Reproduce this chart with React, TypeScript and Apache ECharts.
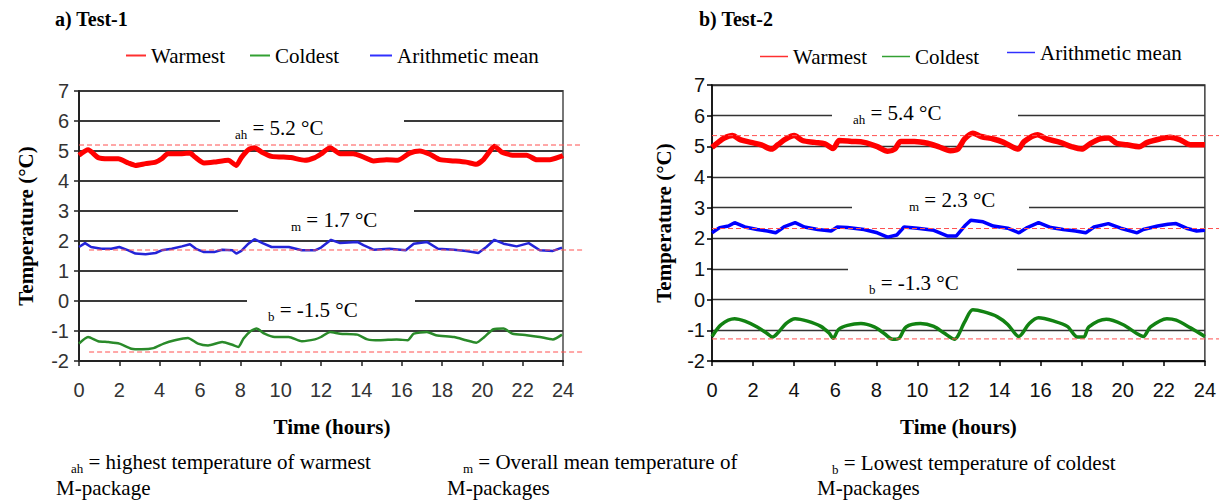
import React, { useEffect, useRef } from 'react';
import * as echarts from 'echarts';

// ---------- data (hours, °C) ----------
const test1Warmest = [
  [0, 4.86], [0.45, 5.04], [0.95, 4.78], [1.45, 4.74], [1.95, 4.74], [2.45, 4.6], [2.8, 4.52], [3.3, 4.58],
  [3.8, 4.63], [4.1, 4.74], [4.4, 4.91], [4.9, 4.91], [5.5, 4.93], [5.75, 4.8], [6.2, 4.6], [6.7, 4.63],
  [7.4, 4.69], [7.8, 4.52], [8.05, 4.78], [8.4, 5.04], [8.7, 5.11], [9.05, 4.97], [9.55, 4.82], [10.05, 4.8],
  [10.5, 4.78], [11.2, 4.69], [11.7, 4.78], [12.0, 4.9], [12.45, 5.11], [12.95, 4.91], [13.6, 4.91], [14.1, 4.8],
  [14.6, 4.67], [15.25, 4.71], [15.8, 4.69], [16.4, 4.93], [16.9, 5.0], [17.4, 4.89], [17.9, 4.71], [18.6, 4.67],
  [19.2, 4.63], [19.7, 4.56], [20.05, 4.71], [20.4, 5.02], [20.6, 5.16], [20.95, 4.97], [21.5, 4.86], [22.2, 4.86],
  [22.7, 4.71], [23.35, 4.71], [23.9, 4.82], [24, 4.85],
];
const test1Mean = [
  [0, 1.8], [0.3, 1.93], [0.6, 1.8], [1.1, 1.74], [1.6, 1.74], [2.0, 1.8], [2.45, 1.69], [2.8, 1.58],
  [3.3, 1.56], [3.8, 1.6], [4.1, 1.69], [4.6, 1.74], [5.1, 1.82], [5.5, 1.89], [5.8, 1.74], [6.2, 1.63],
  [6.7, 1.63], [7.1, 1.71], [7.6, 1.69], [7.8, 1.58], [8.05, 1.67], [8.4, 1.91], [8.7, 2.06], [9.1, 1.93],
  [9.55, 1.8], [10.4, 1.8], [11.05, 1.69], [11.7, 1.69], [12.0, 1.78], [12.5, 2.04], [12.95, 1.93], [13.8, 1.97],
  [14.1, 1.86], [14.6, 1.71], [15.4, 1.74], [16.2, 1.69], [16.6, 1.91], [17.25, 1.97], [17.8, 1.74], [18.6, 1.71],
  [19.2, 1.67], [19.8, 1.6], [20.2, 1.8], [20.6, 2.04], [21.05, 1.91], [21.7, 1.82], [22.3, 1.93], [22.85, 1.69],
  [23.5, 1.67], [23.95, 1.78],
];
const test1Coldest = [
  [0, -1.42], [0.45, -1.2], [0.95, -1.34], [1.45, -1.37], [2.0, -1.42], [2.6, -1.59], [3.1, -1.61], [3.7, -1.57],
  [4.2, -1.42], [4.75, -1.31], [5.4, -1.23], [5.9, -1.42], [6.4, -1.48], [7.1, -1.37], [7.6, -1.46], [7.9, -1.53],
  [8.15, -1.26], [8.5, -1.01], [8.8, -0.92], [9.2, -1.09], [9.7, -1.2], [10.4, -1.2], [11.05, -1.34], [11.7, -1.28],
  [12.0, -1.2], [12.45, -1.03], [12.95, -1.09], [13.8, -1.12], [14.3, -1.28], [14.9, -1.31], [15.75, -1.28], [16.3, -1.31],
  [16.6, -1.09], [17.25, -1.03], [17.7, -1.14], [18.6, -1.2], [19.2, -1.31], [19.7, -1.39], [20.1, -1.2], [20.55, -0.94],
  [21.05, -0.92], [21.5, -1.09], [22.2, -1.14], [22.85, -1.2], [23.5, -1.28], [23.95, -1.12],
];

const test2Warmest = [
  [0, 4.97], [0.3, 5.13], [0.6, 5.27], [1.0, 5.35], [1.4, 5.21], [1.9, 5.13], [2.4, 5.05], [2.9, 4.91],
  [3.2, 5.05], [3.6, 5.24], [4.0, 5.35], [4.4, 5.19], [5.0, 5.13], [5.5, 5.08], [5.9, 4.93], [6.2, 5.19],
  [6.8, 5.16], [7.4, 5.13], [8.05, 4.99], [8.55, 4.84], [8.9, 4.91], [9.2, 5.16], [9.85, 5.16], [10.5, 5.1],
  [11.1, 4.97], [11.6, 4.86], [11.95, 4.9], [12.3, 5.24], [12.7, 5.43], [13.1, 5.32], [13.7, 5.24], [14.2, 5.13],
  [14.9, 4.91], [15.2, 5.16], [15.85, 5.38], [16.3, 5.24], [16.95, 5.13], [17.5, 4.99], [18.0, 4.91], [18.4, 5.08],
  [18.9, 5.24], [19.3, 5.27], [19.7, 5.1], [20.2, 5.05], [20.8, 4.99], [21.2, 5.13], [21.8, 5.24], [22.3, 5.3],
  [22.8, 5.21], [23.3, 5.05], [24, 5.05],
];
const test2Mean = [
  [0, 2.18], [0.37, 2.35], [0.8, 2.4], [1.1, 2.51], [1.6, 2.37], [2.2, 2.29], [2.7, 2.24], [3.1, 2.18],
  [3.5, 2.37], [4.05, 2.51], [4.5, 2.37], [5.15, 2.29], [5.8, 2.24], [6.1, 2.37], [6.6, 2.35], [7.4, 2.29],
  [8.05, 2.18], [8.55, 2.04], [9.0, 2.11], [9.35, 2.37], [10.0, 2.33], [10.8, 2.26], [11.45, 2.08], [11.9, 2.08],
  [12.3, 2.4], [12.6, 2.59], [13.2, 2.54], [13.7, 2.4], [14.4, 2.33], [14.95, 2.18], [15.35, 2.35], [15.9, 2.51],
  [16.5, 2.35], [17.1, 2.29], [17.7, 2.24], [18.2, 2.18], [18.6, 2.37], [19.3, 2.48], [19.9, 2.33], [20.7, 2.18],
  [21.0, 2.29], [21.7, 2.4], [22.2, 2.46], [22.6, 2.48], [23.1, 2.33], [23.6, 2.24], [24, 2.26],
];
const test2Coldest = [
  [0, -1.2], [0.45, -0.81], [1.1, -0.62], [1.6, -0.7], [2.2, -0.89], [2.7, -1.11], [2.95, -1.22], [3.2, -1.09],
  [3.6, -0.78], [4.05, -0.62], [4.65, -0.7], [5.3, -0.87], [5.7, -1.09], [5.9, -1.26], [6.15, -0.98], [6.6, -0.84],
  [7.25, -0.78], [7.9, -0.89], [8.4, -1.11], [8.8, -1.29], [9.1, -1.26], [9.45, -0.89], [10.15, -0.78], [10.8, -0.87],
  [11.3, -1.09], [11.8, -1.29], [12.3, -0.73], [12.7, -0.33], [13.25, -0.4], [13.9, -0.56], [14.4, -0.81], [14.8, -1.14],
  [14.95, -1.2], [15.1, -1.11], [15.45, -0.78], [15.9, -0.59], [16.65, -0.7], [17.3, -0.87], [17.8, -1.22], [18.1, -1.22],
  [18.35, -0.89], [19.2, -0.64], [20.0, -0.81], [20.7, -1.11], [21.0, -1.2], [21.35, -0.89], [22.15, -0.62], [22.6, -0.67],
  [23.3, -0.92], [24, -1.2],
];

// reference (dashed) levels: warmest, mean, coldest
const test1RefLevels = [5.2, 1.7, -1.7];
const test1RefStarts = [0, 0.5, 0.5];
const test2RefLevels = [5.35, 2.32, -1.28];
const test2RefStarts = [0, 0, 0];

const seriesNames = ['Warmest', 'Coldest', 'Arithmetic mean'];
const subscripts = ['ah', 'm', 'b'];
const test1Labels = ['= 5.2 °C', '= 1.7 °C', '= -1.5 °C'];
const test2Labels = ['= 5.4 °C', '= 2.3 °C', '= -1.3 °C'];
const panelTitles = ['a) Test-1', 'b) Test-2'];
const footnotes = [
  ['= highest temperature of warmest', 'M-package'],
  ['= Overall mean temperature of', 'M-packages'],
  ['= Lowest temperature of coldest', 'M-packages'],
];

const SERIF = '"Liberation Serif", "Times New Roman", Times, serif';
const NARROW = '"Liberation Sans Narrow", "Arial Narrow", "Liberation Sans", Arial, sans-serif';

const RED = '#ff0000';
const GREEN1 = '#2a8a2a';
const BLUE1 = '#2424d8';
const GREEN2 = '#128212';
const BLUE2 = '#0000ff';

function subText(sub: string, main: string, x: number, y: number, size = 21) {
  return {
    type: 'text',
    z: 20,
    style: {
      x,
      y,
      text: `{s|${sub}} ${main}`,
      fill: '#000',
      fontFamily: SERIF,
      fontSize: size,
      lineHeight: 26,
      verticalAlign: 'middle',
      rich: {
        s: { fontFamily: SERIF, fontSize: 13, lineHeight: 14, verticalAlign: 'bottom', fill: '#000' },
      },
    },
  };
}

function plainText(text: string, x: number, y: number, size: number, bold = false) {
  return {
    type: 'text',
    z: 20,
    style: {
      x,
      y,
      text,
      fill: '#000',
      fontFamily: SERIF,
      fontSize: size,
      fontWeight: bold ? 'bold' : 'normal',
      verticalAlign: 'middle',
    },
  };
}

function gapRect(x: number, y: number, w: number) {
  return { type: 'rect', z: 10, shape: { x, y: y - 3, width: w, height: 6 }, style: { fill: '#fff' } };
}

export default function App() {
  const ref = useRef<HTMLDivElement>(null);

  useEffect(() => {
    document.body.style.margin = '0';
    if (!ref.current) return;
    const chart = echarts.init(ref.current, undefined, { renderer: 'svg' });

    const valueX = (gridIndex: number, color: string, labelColor: string) => ({
      type: 'value',
      gridIndex,
      min: 0,
      max: 24,
      interval: 2,
      axisLine: { show: true, onZero: false, lineStyle: { color, width: gridIndex === 0 ? 2 : 1.5 } },
      axisTick: { show: true, length: 5, lineStyle: { color, width: 1.5 } },
      axisLabel: { color: labelColor, fontFamily: NARROW, fontSize: 20, margin: 19 },
      splitLine: { show: false },
      name: 'Time (hours)',
      nameLocation: 'middle',
      nameGap: 55,
      nameTextStyle: {
        fontFamily: SERIF,
        fontSize: 21,
        fontWeight: 'bold',
        color: '#000',
        padding: gridIndex === 0 ? [0, 0, 0, 22] : 0,
      },
    });

    const valueY = (gridIndex: number, color: string, labelColor: string, splitColor: string, splitWidth: number, gap: number, margin: number) => ({
      type: 'value',
      gridIndex,
      min: -2,
      max: 7,
      interval: 1,
      axisLine: { show: true, onZero: false, lineStyle: { color, width: gridIndex === 0 ? 2 : 1.5 } },
      axisTick: { show: true, length: 5, lineStyle: { color, width: 1.5 } },
      axisLabel: { color: labelColor, fontFamily: NARROW, fontSize: 20, margin },
      splitLine: { show: true, lineStyle: { color: splitColor, width: splitWidth } },
      name: 'Temperature (°C)',
      nameLocation: 'middle',
      nameRotate: 90,
      nameGap: gap,
      nameTextStyle: { fontFamily: SERIF, fontSize: 21, fontWeight: 'bold', color: '#000' },
    });

    const hiddenX = (gridIndex: number, max: number) => ({ type: 'value', gridIndex, min: 0, max, show: false });
    const hiddenY = (gridIndex: number) => ({ type: 'value', gridIndex, min: -2, max: 7, show: false });

    const lineSeries = (name: string, data: number[][], idx: number, color: string, width: number, smooth: number) => ({
      type: 'line',
      name,
      data,
      xAxisIndex: idx,
      yAxisIndex: idx,
      showSymbol: false,
      symbol: 'none',
      smooth,
      lineStyle: { color, width },
      itemStyle: { color },
      z: 3,
    });

    const refSeries = (level: number, start: number, end: number, idx: number) => ({
      type: 'line',
      name: 'ref',
      data: [[start, level], [end, level]],
      xAxisIndex: idx,
      yAxisIndex: idx,
      showSymbol: false,
      symbol: 'none',
      lineStyle: { color: '#ff5050', width: 1, type: [5, 3] },
      z: 4,
      silent: true,
    });

    const legendItem = (name: string, color: string, left: number, top: number, w: number, h: number) => ({
      left,
      top,
      padding: 0,
      selectedMode: false,
      icon: 'rect',
      itemWidth: w,
      itemHeight: h,
      data: [{ name, itemStyle: { color } }],
      textStyle: { fontFamily: SERIF, fontSize: 21, color: '#000' },
    });

    const leftRefEnd = 25;
    const rightRefEnd = 24.64;

    const graphics: any[] = [
      plainText(panelTitles[0], 55, 19, 20, true),
      plainText(panelTitles[1], 699, 19, 20, true),
      // gaps in gridlines behind annotations
      gapRect(220, 121, 184),
      gapRect(238, 211, 176),
      gapRect(247, 301, 168),
      gapRect(832, 115.7, 186),
      gapRect(852, 207.7, 177),
      gapRect(848, 269, 169),
      subText(subscripts[0], test1Labels[0], 235, 128),
      subText(subscripts[1], test1Labels[1], 291, 220),
      subText(subscripts[2], test1Labels[2], 268, 310),
      subText(subscripts[0], test2Labels[0], 853, 113),
      subText(subscripts[1], test2Labels[1], 909, 200),
      subText(subscripts[2], test2Labels[2], 869, 283),
      subText(subscripts[0], footnotes[0][0], 71, 462),
      plainText(footnotes[0][1], 56, 488, 21),
      subText(subscripts[1], footnotes[1][0], 463, 462),
      plainText(footnotes[1][1], 447, 488, 21),
      subText(subscripts[2], footnotes[2][0], 832, 463),
      plainText(footnotes[2][1], 817, 488, 21),
    ];

    chart.setOption({
      animation: false,
      backgroundColor: '#fff',
      grid: [
        { left: 79, top: 91, width: 484, height: 270, show: true, borderColor: '#777', borderWidth: 2, backgroundColor: 'transparent' },
        { left: 712, top: 85, width: 494, height: 276, show: true, borderColor: '#222', borderWidth: 1.3, backgroundColor: 'transparent' },
        { left: 79, top: 91, width: 504, height: 270 },
        { left: 712, top: 85, width: 507, height: 276 },
      ],
      xAxis: [
        valueX(0, '#222', '#333'),
        valueX(1, '#000', '#111'),
        hiddenX(2, leftRefEnd),
        hiddenX(3, rightRefEnd),
      ],
      yAxis: [
        valueY(0, '#222', '#333', '#3a3a3a', 2, 43, 10),
        valueY(1, '#000', '#111', '#333', 1.3, 38, 7),
        hiddenY(2),
        hiddenY(3),
      ],
      legend: [
        legendItem(seriesNames[0], '#ff3030', 126, 45, 20, 2),
        legendItem(seriesNames[1], '#33a033', 250, 45, 20, 2),
        legendItem(seriesNames[2], '#3030ff', 370, 45, 22, 2),
        legendItem(seriesNames[0], '#ff3030', 760, 46, 28, 1.5),
        legendItem(seriesNames[1], '#33a033', 882, 46, 28, 1.5),
        legendItem(seriesNames[2], '#3030ff', 1007, 42, 28, 1.5),
      ],
      series: [
        lineSeries(seriesNames[0], test1Warmest, 0, RED, 5, 0.2),
        lineSeries(seriesNames[1], test1Coldest, 0, GREEN1, 2.5, 0.2),
        lineSeries(seriesNames[2], test1Mean, 0, BLUE1, 2.5, 0),
        lineSeries(seriesNames[0], test2Warmest, 1, RED, 5.5, 0.3),
        lineSeries(seriesNames[1], test2Coldest, 1, GREEN2, 3.5, 0.3),
        lineSeries(seriesNames[2], test2Mean, 1, BLUE2, 3.5, 0),
        ...test1RefLevels.map((v, i) => refSeries(v, test1RefStarts[i], leftRefEnd, 2)),
        ...test2RefLevels.map((v, i) => refSeries(v, test2RefStarts[i], rightRefEnd, 3)),
      ],
      graphic: { elements: graphics },
    });

    return () => chart.dispose();
  }, []);

  return <div ref={ref} style={{ width: 1219, height: 502, position: 'absolute', left: 0, top: 0 }} />;
}
